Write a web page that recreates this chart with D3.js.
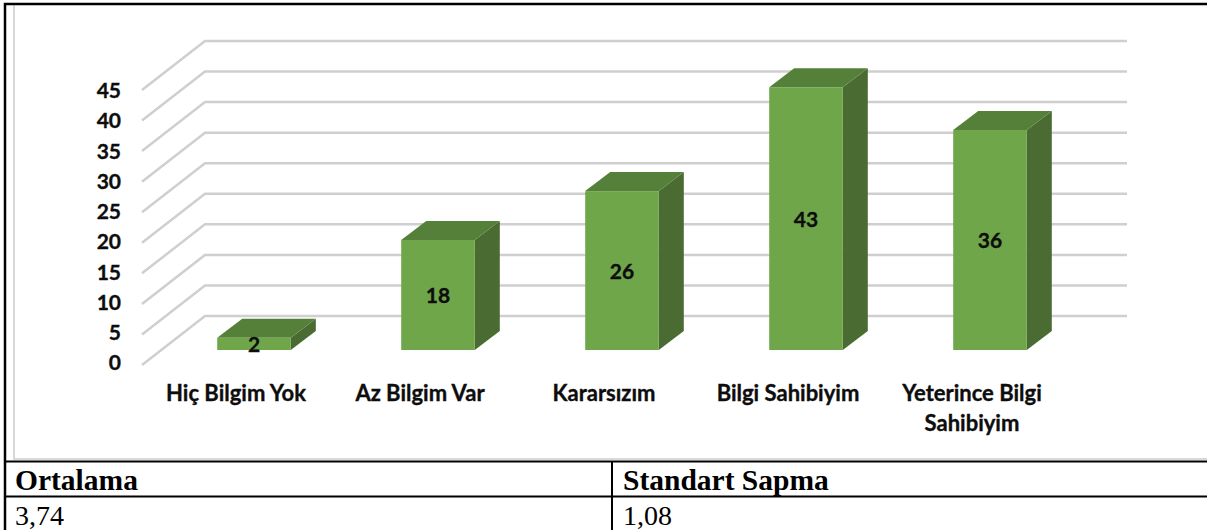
<!DOCTYPE html>
<html>
<head>
<meta charset="utf-8">
<script src="https://cdn.jsdelivr.net/npm/d3@7"></script>
<style>
  html, body { margin: 0; padding: 0; background: #fff; overflow: hidden; }
  svg { display: block; }
  .tick-label, .cat-label, .val-label { font-family: Lato, "Open Sans", sans-serif; font-weight: 700; fill: #0d0d0d; stroke: #0d0d0d; stroke-width: 0.35px; }
  .table-text { font-family: "Liberation Serif", serif; font-size: 28px; fill: #000; }
  .table-head { font-size: 29.5px; font-weight: 700; }
</style>
</head>
<body>
<svg id="chart" width="1207" height="530"></svg>
<script>
const categories = ["Hiç Bilgim Yok", "Az Bilgim Var", "Kararsızım", "Bilgi Sahibiyim", "Yeterince Bilgi\nSahibiyim"];
const values = [2, 18, 26, 43, 36];
const ticks = [0, 5, 10, 15, 20, 25, 30, 35, 40, 45];
const tableHead = ["Ortalama", "Standart Sapma"];
const tableRow = ["3,74", "1,08"];

const svg = d3.select("#chart");

// 3d offsets: floor depth and bar depth
const wallDx = 63, wallDy = -49;
const barDx = 25, barDy = -19;
const barGapDx = 18, barGapDy = -15;

const xScale = d3.scaleBand().domain(categories).range([144, 1064]).paddingInner(0.6).paddingOuter(0.3);
const yScale = d3.scaleLinear().domain([0, 45]).range([365, 90]);
const labelScale = d3.scaleLinear().domain([0, 45]).range([363, 91]);

// frame
const frame = svg.append("g");
frame.append("path").attr("d", "M14,5 V459 H1207").attr("fill", "none").attr("stroke", "#d9d9d9").attr("stroke-width", 2);
frame.append("path").attr("d", "M1207,4 H5 V530").attr("fill", "none").attr("stroke", "#000").attr("stroke-width", 2.5);
frame.append("path").attr("d", "M5,461.5 H1207 M5,496.5 H1207 M612,461.5 V530").attr("fill", "none").attr("stroke", "#000").attr("stroke-width", 2);

// gridlines
const grid = svg.append("g");
grid.selectAll("path")
  .data(ticks)
  .join("path")
  .attr("fill", "none")
  .attr("stroke", "#cfcfcf")
  .attr("stroke-width", 2.5)
  .attr("d", (d) => {
    const y = yScale(d);
    return `M${142},${y} L${142 + wallDx},${y + wallDy} H1127`;
  });

// bars
const bars = svg.append("g").selectAll("g").data(values).join("g");
const left = (d, i) => xScale(categories[i]) + barGapDx;
const right = (d, i) => left(d, i) + xScale.bandwidth();
const base = yScale(0) + barGapDy;
const top3d = (d) => base - (yScale(0) - yScale(d));

bars.append("path")
  .attr("fill", "#4a6c32")
  .attr("d", (d, i) => `M${right(d, i)},${base} L${right(d, i) + barDx},${base + barDy} V${top3d(d) + barDy} L${right(d, i)},${top3d(d)} Z`);
bars.append("path")
  .attr("fill", "#558039")
  .attr("d", (d, i) => `M${left(d, i)},${top3d(d)} L${left(d, i) + barDx},${top3d(d) + barDy} H${right(d, i) + barDx} L${right(d, i)},${top3d(d)} Z`);
bars.append("rect")
  .attr("fill", "#70a64a")
  .attr("x", left)
  .attr("y", (d) => top3d(d))
  .attr("width", xScale.bandwidth())
  .attr("height", (d) => base - top3d(d));
bars.append("text")
  .attr("class", "val-label")
  .attr("font-size", 21)
  .attr("text-anchor", "middle")
  .attr("x", (d, i) => left(d, i) + xScale.bandwidth() / 2)
  .attr("y", (d) => (top3d(d) + base) / 2 + 8)
  .text((d) => d);

// y axis labels
const yAxis = d3.axisLeft(labelScale).tickValues(ticks).tickSize(0).tickPadding(0);
const yG = svg.append("g").attr("transform", "translate(121,0)").call(yAxis);
yG.select(".domain").remove();
yG.selectAll("text").attr("class", "tick-label").attr("font-size", 21).attr("font-family", null);

// category labels
svg.append("g").selectAll("text")
  .data(categories)
  .join("text")
  .attr("class", "cat-label")
  .attr("font-size", 22)
  .attr("text-anchor", "middle")
  .each(function (d) {
    const x = xScale(d) + xScale.bandwidth() / 2;
    d3.select(this).selectAll("tspan")
      .data(d.split("\n"))
      .join("tspan")
      .attr("x", x)
      .attr("y", (s, j) => 401 + j * 30)
      .text((s) => s);
  });

// table under the chart
const tableX = [15, 623];
svg.append("g").selectAll("text")
  .data(tableHead)
  .join("text")
  .attr("class", "table-text table-head")
  .attr("x", (d, i) => tableX[i])
  .attr("y", 490)
  .text((d) => d);
svg.append("g").selectAll("text")
  .data(tableRow)
  .join("text")
  .attr("class", "table-text")
  .attr("x", (d, i) => tableX[i])
  .attr("y", 525)
  .text((d) => d);
</script>
</body>
</html>
